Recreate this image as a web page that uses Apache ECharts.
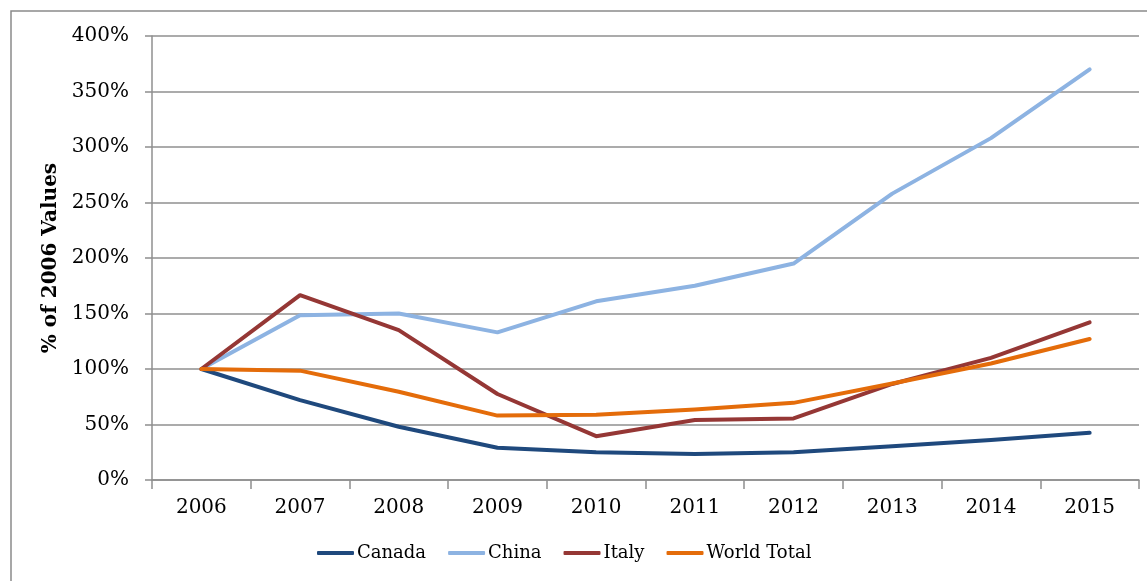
<!DOCTYPE html>
<html><head><meta charset="utf-8">
<script src="https://cdn.jsdelivr.net/npm/echarts@6/dist/echarts.min.js"></script>
<style>html,body{margin:0;padding:0;background:#fff}#c{width:1147px;height:581px}</style>
</head><body><div id="c"></div>
<script>
const years = ['2006','2007','2008','2009','2010','2011','2012','2013','2014','2015'];
const canada = [100, 72, 48, 29, 25, 23.5, 25, 30.5, 36, 42.5];
const china = [100, 148.5, 150, 133, 161, 175, 195, 258, 308, 370];
const italy = [100, 166.5, 135, 77.5, 39.5, 54, 55.5, 86.5, 110, 142];
const world = [100, 98.5, 79.5, 58, 58.8, 63.5, 69.5, 87, 105, 127];
const yTicks = [0, 50, 100, 150, 200, 250, 300, 350, 400];

const font = 'DejaVu Serif';
const chart = echarts.init(document.getElementById('c'));
const mk = (name, data, color) => ({
  name, type: 'line', data, symbol: 'none', smooth: false,
  lineStyle: { color, width: 4, cap: 'round', join: 'round' },
  itemStyle: { color }
});
chart.setOption({
  animation: false,
  graphic: [{ type: 'rect', shape: { x: 11, y: 11, width: 1160, height: 600 },
    style: { fill: 'none', stroke: '#8a8a8a', lineWidth: 1.5 }, z: -1 }],
  grid: { left: 152, right: 8, top: 36, bottom: 101 },
  legend: {
    bottom: 14, left: 312, itemWidth: 37, itemHeight: 4, itemGap: 22,
    icon: 'roundRect',
    textStyle: { fontFamily: font, fontSize: 18, color: '#000', padding: [0, 0, 0, -2] },
    data: ['Canada', 'China', 'Italy', 'World Total']
  },
  xAxis: {
    type: 'category', data: years, boundaryGap: true,
    axisLine: { lineStyle: { color: '#8f8f8f', width: 1.5 } },
    axisTick: { show: true, length: 9, lineStyle: { color: '#8f8f8f', width: 1.5 } },
    axisLabel: { fontFamily: font, fontSize: 20, color: '#000', margin: 18 }
  },
  yAxis: {
    type: 'value', min: 0, max: 400, interval: 50,
    name: '% of 2006 Values', nameLocation: 'middle', nameGap: 91,
    nameTextStyle: { fontFamily: font, fontSize: 20, fontWeight: 'bold', color: '#000' },
    axisLine: { show: true, lineStyle: { color: '#8f8f8f', width: 1.5 } },
    axisTick: { show: true, length: 7, lineStyle: { color: '#8f8f8f', width: 1.5 } },
    splitLine: { lineStyle: { color: '#8f8f8f', width: 1.5 } },
    axisLabel: { fontFamily: font, fontSize: 20, color: '#000', margin: 23,
      formatter: v => yTicks.includes(v) ? v + '%' : '' }
  },
  series: [
    mk('Canada', canada, '#1F497D'),
    mk('China', china, '#8DB3E2'),
    mk('Italy', italy, '#953735'),
    mk('World Total', world, '#E46C0A')
  ]
});
</script></body></html>
